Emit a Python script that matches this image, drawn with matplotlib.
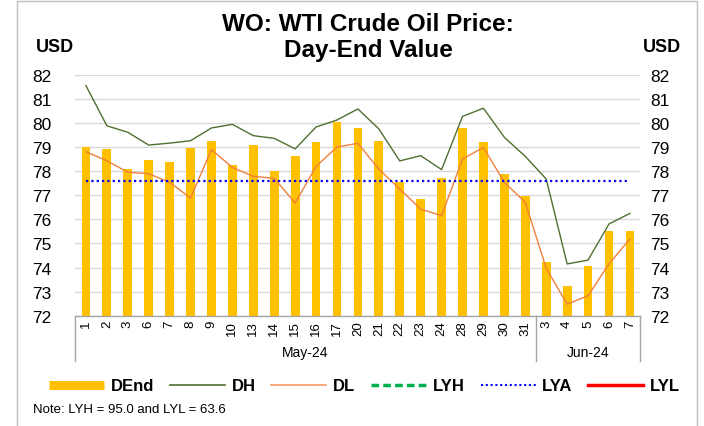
import numpy as np
import matplotlib
matplotlib.use('Agg')
import matplotlib.pyplot as plt
from matplotlib.lines import Line2D
from matplotlib.patches import Rectangle

plt.rcParams['font.family'] = ['Liberation Sans', 'DejaVu Sans']

# ── data ─────────────────────────────────────────────────────────
days = ['1', '2', '3', '6', '7', '8', '9', '10', '13', '14', '15', '16', '17', '20',
        '21', '22', '23', '24', '28', '29', '30', '31',
        '3', '4', '5', '6', '7']
months = ['May-24', 'Jun-24']
month_counts = [22, 5]

d_end = [78.99, 78.94, 78.09, 78.47, 78.37, 78.98, 79.24, 78.26, 79.09, 78.00,
         78.62, 79.22, 80.05, 79.78, 79.26, 77.57, 76.86, 77.72, 79.81, 79.23,
         77.90, 76.99, 74.23, 73.25, 74.06, 75.53, 75.52]
d_high = [81.56, 79.89, 79.62, 79.09, 79.17, 79.27, 79.80, 79.95, 79.48, 79.37,
          78.93, 79.84, 80.13, 80.59, 79.76, 78.43, 78.65, 78.07, 80.28, 80.62,
          79.41, 78.62, 77.68, 74.15, 74.31, 75.81, 76.25]
d_low = [78.81, 78.44, 77.96, 77.90, 77.54, 76.89, 78.90, 78.16, 77.79, 77.71,
         76.68, 78.20, 79.01, 79.16, 78.09, 77.26, 76.43, 76.16, 78.51, 78.99,
         77.54, 76.71, 73.97, 72.48, 72.83, 74.15, 75.19]
ly_high = 95.0
ly_avg = 77.6
ly_low = 63.6

# ── colours ──────────────────────────────────────────────────────
GOLD = '#FFC000'
DH_COL = '#4F7030'
DL_COL = '#F0803C'
LYH_COL = '#00B050'
LYA_COL = '#0000FF'
LYL_COL = '#FF0000'
GRID = '#D9D9D9'
AXIS = '#A6A6A6'

fig = plt.figure(figsize=(7.04, 4.27), dpi=100)
ax = fig.add_axes([0.1072, 0.2583, 0.8024, 0.5637])

x = np.arange(len(days))
n = len(days)

ax.bar(x, d_end, width=0.42, bottom=0, color=GOLD, zorder=2)
ax.plot(x, d_high, color=DH_COL, lw=1.0, zorder=3)
ax.plot(x, d_low, color=DL_COL, lw=1.0, zorder=3)
ax.plot(x, [ly_high] * n, color=LYH_COL, lw=2.2, ls=(0, (3, 1.5)), zorder=4)
ax.plot(x, [ly_avg] * n, color=LYA_COL, lw=1.6, ls=(0, (1, 1.4)), zorder=4)
ax.plot(x, [ly_low] * n, color=LYL_COL, lw=2.2, zorder=4)

ax.set_xlim(-0.5, n - 0.5)
ax.set_ylim(72, 82)
ax.set_yticks(np.arange(72, 83, 1))
ax.yaxis.grid(True, color=GRID, lw=1.0, zorder=0)
ax.set_axisbelow(True)

for side in ['left', 'right', 'top']:
    ax.spines[side].set_visible(False)
ax.spines['bottom'].set_color(AXIS)
ax.spines['bottom'].set_linewidth(1.0)

ax.set_xticks(x)
ax.set_xticklabels(days, rotation=90, fontsize=9.5)
ax.tick_params(axis='x', length=0, pad=3)
ax.tick_params(axis='y', length=0, labelsize=12.5, pad=17)

# mirrored value axis on the right
ax_r = ax.twinx()
ax_r.set_ylim(ax.get_ylim())
ax_r.set_yticks(ax.get_yticks())
ax_r.tick_params(axis='y', length=0, labelsize=12.5, pad=7)
for side in ['left', 'right', 'top', 'bottom']:
    ax_r.spines[side].set_visible(False)

# month groups under the day labels
tr = ax.get_xaxis_transform()
edges = np.concatenate([[0], np.cumsum(month_counts)]) - 0.5
for xe in edges:
    ax.add_line(Line2D([xe, xe], [0, -0.19], transform=tr, color=AXIS,
                       lw=1.0, clip_on=False))
for i, m in enumerate(months):
    xc = (edges[i] + edges[i + 1]) / 2
    ax.text(xc, -0.152, m, transform=tr, ha='center', va='center',
            fontsize=10)

# title and unit labels
fig.text(0.523, 0.912, 'WO: WTI Crude Oil Price:\nDay-End Value',
         ha='center', va='center', fontsize=17.5, fontweight='bold',
         linespacing=1.2)
fig.text(0.051, 0.889, 'USD', ha='left', va='center', fontsize=13,
         fontweight='bold')
fig.text(0.913, 0.889, 'USD', ha='left', va='center', fontsize=13,
         fontweight='bold')

# legend
handles = [
    Line2D([], [], color=GOLD, lw=6.5, solid_capstyle='butt'),
    Line2D([], [], color=DH_COL, lw=1.2),
    Line2D([], [], color=DL_COL, lw=1.2, alpha=0.8),
    Line2D([], [], color=LYH_COL, lw=2.5, ls=(0, (2.2, 1.2))),
    Line2D([], [], color=LYA_COL, lw=1.5, ls=(0, (1, 1.3))),
    Line2D([], [], color=LYL_COL, lw=2.5),
]
labels = ['DEnd', 'DH', 'DL', 'LYH', 'LYA', 'LYL']
fig.legend(handles, labels, loc='center', bbox_to_anchor=(0.518, 0.094),
           ncol=6, frameon=False, handlelength=3.3, handletextpad=0.4,
           columnspacing=0.95, prop={'weight': 'bold', 'size': 12})

fig.text(0.047, 0.04, 'Note: LYH = 95.0 and LYL = 63.6', ha='left',
         va='center', fontsize=9.5)

# chart border
fig.add_artist(Rectangle((17 / 704, -0.01), (697 - 17) / 704, 1 - 2 / 427 + 0.01,
                         transform=fig.transFigure, fill=False,
                         edgecolor='#BFBFBF', lw=1.0))

fig.savefig('out.png', dpi=100)
